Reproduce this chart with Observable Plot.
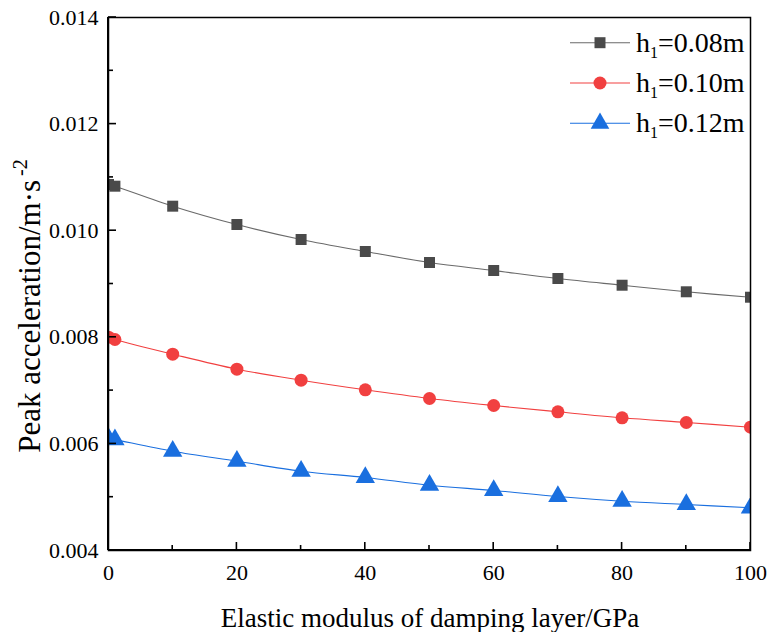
<!DOCTYPE html>
<html>
<head>
<meta charset="utf-8">
<script src="https://cdn.jsdelivr.net/npm/d3@7"></script>
<script src="https://cdn.jsdelivr.net/npm/@observablehq/plot@0.6"></script>
<style>
  html, body { margin: 0; padding: 0; background: #fff; }
</style>
</head>
<body>
<div id="chart"></div>
<script>
const modulus = [0, 1, 10, 20, 30, 40, 50, 60, 70, 80, 90, 100];
const h008 = [0.010867, 0.010835, 0.010460, 0.010116, 0.009835, 0.009610, 0.009403, 0.009253, 0.009103, 0.008977, 0.008854, 0.008752];
const h010 = [0.008002, 0.007959, 0.007683, 0.007402, 0.007195, 0.007015, 0.006852, 0.006720, 0.006602, 0.006490, 0.006402, 0.006313];
const h012 = [0.006101, 0.006080, 0.005863, 0.005675, 0.005488, 0.005370, 0.005225, 0.005126, 0.005013, 0.004925, 0.004863, 0.004801];
const seriesNames = ["0.08m", "0.10m", "0.12m"];
const seriesColors = ["#4a4a4a", "#f14040", "#1a6fdf"];
const lineColors = ["#6a6a6a", "#f14040", "#1a6fdf"];
const seriesSymbols = ["square", "circle", "triangle"];
const xMajor = [0, 20, 40, 60, 80, 100];
const xMinor = [10, 30, 50, 70, 90];
const yMajor = [0.004, 0.006, 0.008, 0.010, 0.012, 0.014];
const yMinor = [0.005, 0.007, 0.009, 0.011, 0.013];

const FONT = "'Liberation Serif', 'Times New Roman', serif";

const rows = [];
[h008, h010, h012].forEach((arr, s) => arr.forEach((v, i) => rows.push({x: modulus[i], y: v, s})));

const marks = [];
[0, 1, 2].forEach(s => {
  const d = rows.filter(r => r.s === s);
  marks.push(Plot.line(d, {x: "x", y: "y", stroke: lineColors[s], strokeWidth: 1.1, curve: "catmull-rom"}));
  marks.push(Plot.dot(d, {x: "x", y: "y", symbol: () => seriesSymbols[s], fill: seriesColors[s], stroke: "none", r: s === 0 ? 6.2 : (s === 1 ? 6.5 : 7.2), clip: true}));
});
marks.push(Plot.frame({stroke: "#000", strokeWidth: 1.5}));
marks.push(Plot.axisX({ticks: xMajor, tickSize: 0, tickPadding: 14, fontSize: 22, label: null, tickFormat: d => String(d)}));
marks.push(Plot.axisY({ticks: yMajor, tickSize: 0, tickPadding: 10, fontSize: 22, label: null, tickFormat: d3.format(".3f")}));

const chart = Plot.plot({
  width: 767,
  height: 632,
  marginLeft: 108,
  marginRight: 17,
  marginTop: 17,
  marginBottom: 82,
  x: {domain: [0, 100]},
  y: {domain: [0.004, 0.014]},
  style: {fontFamily: FONT, color: "#000", background: "#fff"},
  marks
});
document.getElementById("chart").appendChild(chart);

const svg = d3.select(chart);
const xs = chart.scale("x"), ys = chart.scale("y");
const x0 = xs.apply(0), yb = ys.apply(0.004);
const g = svg.append("g").attr("stroke", "#000").attr("stroke-width", 1.6);
xMajor.forEach(v => g.append("line").attr("x1", xs.apply(v)).attr("x2", xs.apply(v)).attr("y1", yb).attr("y2", yb - 8));
xMinor.forEach(v => g.append("line").attr("x1", xs.apply(v)).attr("x2", xs.apply(v)).attr("y1", yb).attr("y2", yb - 5));
yMajor.forEach(v => g.append("line").attr("y1", ys.apply(v)).attr("y2", ys.apply(v)).attr("x1", x0).attr("x2", x0 + 8));
yMinor.forEach(v => g.append("line").attr("y1", ys.apply(v)).attr("y2", ys.apply(v)).attr("x1", x0).attr("x2", x0 + 5));
g.append("line").attr("x1", x0).attr("x2", x0).attr("y1", ys.apply(0.014)).attr("y2", yb).attr("stroke-width", 2);
g.append("line").attr("x1", x0).attr("x2", xs.apply(100)).attr("y1", yb).attr("y2", yb).attr("stroke-width", 2);

// axis titles
svg.append("text").attr("x", (x0 + xs.apply(100)) / 2 + 1).attr("y", 627)
  .attr("text-anchor", "middle").attr("font-size", 27).attr("fill", "#000")
  .text("Elastic modulus of damping layer/GPa");
const yt = svg.append("text").attr("transform", "translate(40,306) rotate(-90)")
  .attr("text-anchor", "middle").attr("font-size", 31).attr("fill", "#000");
yt.append("tspan").text("Peak acceleration/m\u00b7s");
yt.append("tspan").attr("dx", 4).attr("dy", -13).attr("font-size", 20).text("-2");

// legend
const lg = svg.append("g");
seriesNames.forEach((name, i) => {
  const cy = 42.7 + i * 40.3;
  lg.append("line").attr("x1", 570).attr("x2", 630).attr("y1", cy).attr("y2", cy).attr("stroke", lineColors[i]).attr("stroke-width", 1.1);
  lg.append("path").attr("transform", `translate(600,${cy})`)
    .attr("d", d3.symbol(i === 0 ? d3.symbolSquare : i === 1 ? d3.symbolCircle : d3.symbolTriangle, i === 0 ? 121 : i === 1 ? 133 : 150)())
    .attr("fill", seriesColors[i]);
  const t = lg.append("text").attr("x", 636).attr("y", cy + 9).attr("font-size", 28).attr("fill", "#000").attr("text-anchor", "start");
  t.append("tspan").text("h");
  t.append("tspan").attr("dy", 6).attr("font-size", 16).text("1");
  t.append("tspan").attr("dy", -6).text("=" + name);
});

svg.selectAll("text").style("font-family", FONT);
</script>
</body>
</html>
